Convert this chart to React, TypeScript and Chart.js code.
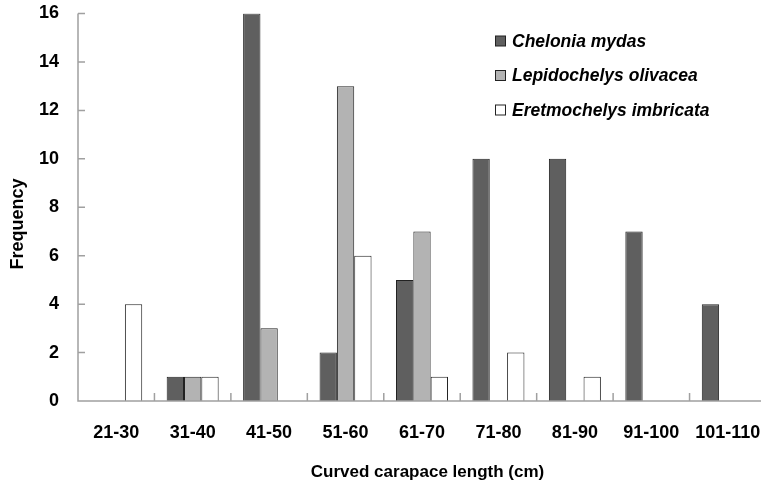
import React, { useEffect, useRef } from "react";
import { Chart, registerables } from "chart.js";

Chart.register(...registerables);

const categories = ["21-30", "31-40", "41-50", "51-60", "61-70", "71-80", "81-90", "91-100", "101-110"];
const cheloniaMydas = [0, 1, 16, 2, 5, 10, 10, 7, 4];
const lepidochelysOlivacea = [0, 1, 3, 13, 7, 0, 0, 0, 0];
const eretmochelysImbricata = [4, 1, 0, 6, 1, 2, 1, 0, 0];
const seriesNames = ["Chelonia mydas", "Lepidochelys olivacea", "Eretmochelys imbricata"];
const yTicks = [0, 2, 4, 6, 8, 10, 12, 14, 16];
const xTitle = "Curved carapace length (cm)";
const yTitle = "Frequency";

const FONT = "'Liberation Sans', Arial, sans-serif";
const AXIS_COLOR = "#a0a0a0";

const axesPlugin = {
  id: "customAxes",
  afterDatasetsDraw(chart: any) {
    const { ctx, chartArea, scales } = chart;
    const x = scales.x;
    const y = scales.y;
    const top = y.getPixelForValue(yTicks[yTicks.length - 1]);
    const bottom = y.getPixelForValue(0);
    ctx.save();
    ctx.strokeStyle = AXIS_COLOR;
    ctx.lineWidth = 1.5;
    ctx.beginPath();
    ctx.moveTo(chartArea.left, top);
    ctx.lineTo(chartArea.left, bottom);
    ctx.lineTo(chartArea.right, bottom);
    for (const v of yTicks) {
      const py = y.getPixelForValue(v);
      ctx.moveTo(chartArea.left, py);
      ctx.lineTo(chartArea.left + 7, py);
    }
    const n = categories.length;
    for (let i = 1; i < n; i++) {
      const px = x.left + (i * x.width) / n;
      ctx.moveTo(px, bottom);
      ctx.lineTo(px, bottom - 8);
    }
    ctx.stroke();
    ctx.restore();
  },
};

const textPlugin = {
  id: "customText",
  afterDraw(chart: any) {
    const { ctx } = chart;
    ctx.save();
    chart.data.datasets.forEach((ds: any, i: number) => {
      const cy = 41 + i * 34.5;
      ctx.fillStyle = ds.backgroundColor;
      ctx.strokeStyle = "#222";
      ctx.lineWidth = 1;
      ctx.fillRect(495.5, cy - 5, 10, 10);
      ctx.strokeRect(495.5, cy - 5, 10, 10);
      ctx.fillStyle = "#000";
      ctx.font = `italic bold 17.5px ${FONT}`;
      ctx.textBaseline = "middle";
      ctx.textAlign = "left";
      ctx.fillText(ds.label, 512, cy + 1);
    });
    ctx.fillStyle = "#000";
    ctx.textAlign = "center";
    ctx.textBaseline = "middle";
    ctx.font = `bold 17px ${FONT}`;
    ctx.fillText(xTitle, 427.5, 472);
    ctx.translate(18.5, 224);
    ctx.rotate(-Math.PI / 2);
    ctx.font = `bold 18px ${FONT}`;
    ctx.fillText(yTitle, 0, 0);
    ctx.restore();
  },
};

export default function App() {
  const ref = useRef<HTMLCanvasElement>(null);
  useEffect(() => {
    if (!ref.current) return;
    const chart = new Chart(ref.current, {
      type: "bar",
      data: {
        labels: categories,
        datasets: [
          { label: seriesNames[0], data: cheloniaMydas, backgroundColor: "#5f5f5f", borderColor: "#222", borderWidth: 1 },
          { label: seriesNames[1], data: lepidochelysOlivacea, backgroundColor: "#b3b3b3", borderColor: "#222", borderWidth: 1 },
          { label: seriesNames[2], data: eretmochelysImbricata, backgroundColor: "#ffffff", borderColor: "#222", borderWidth: 1 },
        ],
      },
      options: {
        animation: false,
        responsive: false,
        devicePixelRatio: 1,
        layout: { padding: { top: 13.5, right: 6, bottom: 0, left: 0 } },
        datasets: { bar: { barPercentage: 1, categoryPercentage: 0.68 } },
        plugins: { legend: { display: false }, tooltip: { enabled: false } },
        scales: {
          x: {
            grid: { display: false, drawTicks: false },
            border: { display: false },
            ticks: { color: "#000", font: { family: FONT, size: 18, weight: "bold" }, padding: 21, maxRotation: 0, autoSkip: false },
            afterFit: (s: any) => { s.height = 85; s.paddingLeft = 0; s.paddingRight = 0; },
          },
          y: {
            min: 0,
            max: 16,
            grid: { display: false, drawTicks: false },
            border: { display: false },
            ticks: { stepSize: 2, color: "#000", font: { family: FONT, size: 18, weight: "bold" }, padding: 19 },
            afterFit: (s: any) => { s.width = 78; s.paddingTop = 0; s.paddingBottom = 0; },
          },
        },
      },
      plugins: [axesPlugin, textPlugin],
    });
    return () => chart.destroy();
  }, []);
  return (
    <div style={{ position: "fixed", left: 0, top: 0, width: 761, height: 486, overflow: "hidden", background: "#fff" }}>
      <canvas ref={ref} width={772} height={486} style={{ display: "block" }} />
    </div>
  );
}
